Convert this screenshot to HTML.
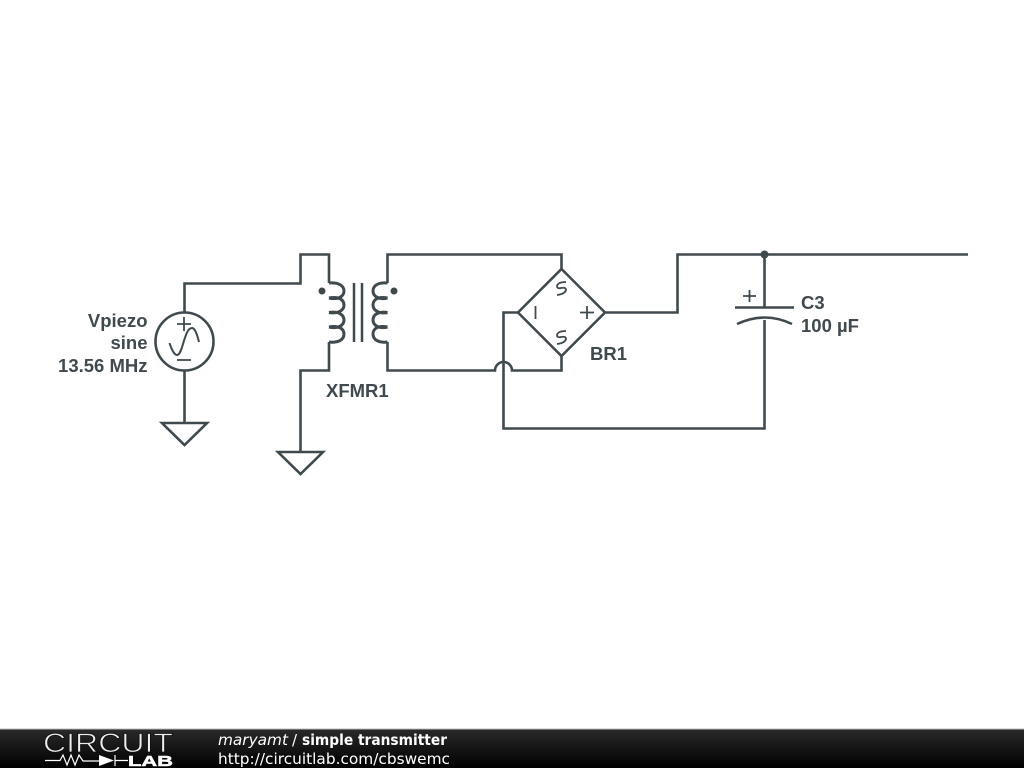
<!DOCTYPE html>
<html><head><meta charset="utf-8"><style>
html,body{margin:0;padding:0;background:#fff}
svg{display:block}
.l{font:bold 18.500px "Liberation Sans",sans-serif;fill:#404a4e}
.f{font:15px "DejaVu Sans",sans-serif;fill:#fff}
</style></head><body>
<svg width="1024" height="768" viewBox="0 0 1024 768" xmlns="http://www.w3.org/2000/svg">
<defs><linearGradient id="g" x1="0" y1="0" x2="0" y2="1"><stop offset="0" stop-color="#2a2a2a"/><stop offset=".5" stop-color="#151515"/><stop offset="1" stop-color="#000"/></linearGradient></defs>
<rect width="1024" height="768" fill="#fff"/>
<g fill="none" stroke="#404a4e" stroke-width="2.600" stroke-linejoin="miter">
<path d="M184.500 312V283.500H300.500V254.500H329V283"/>
<path d="M184.500 371V423"/>
<circle cx="184.500" cy="341.500" r="29"/>
<path d="M162 423H207L184.500 445Z"/>
<path d="M329 342V370.500H300.500V452"/>
<path d="M278 452H323L300.500 474Z"/>
<g stroke-width="3">
<path d="M329 283C339 282 344 286 344 291C344 297 337 300 329 298"/>
<path d="M329 298C339 296 344 300 344 305C344 311 337 314 329 312.500"/>
<path d="M329 312.500C339 311 344 315 344 320C344 326 337 329 329 327"/>
<path d="M329 327C339 325 344 329 344 334C344 340 338 343 329 342"/>
<path d="M387.500 283C377.500 282 373 286 373 291C373 297 380 300 387.500 298"/>
<path d="M387.500 298C377.500 296 373 300 373 305C373 311 380 314 387.500 312.500"/>
<path d="M387.500 312.500C377.500 311 373 315 373 320C373 326 380 329 387.500 327"/>
<path d="M387.500 327C377.500 325 373 329 373 334C373 340 379 343 387.500 342"/>
</g>
<path d="M354 283V342M362 283V342" stroke-width="2.500"/>
<path d="M387.500 283V254.500H561.500V269"/>
<path d="M387.500 342V370.500H495A8.500 8.500 0 0 1 512 370.500H561.500V356"/>
<path d="M561.500 269L605 312.500L561.500 356L518 312.500Z"/>
<path d="M518 312.500H503.500V428.500H764.500V320"/>
<path d="M605 312.500H677.500V254.500H968"/>
<path d="M764.500 254.500V307"/>
<path d="M735 307.500H794"/>
<path d="M737 324Q764.500 311 792 324"/>
</g>
<g fill="none" stroke="#404a4e" stroke-width="1.800">
<path d="M177 324H191M184 317V331"/>
<path d="M177 360H191"/>
<path d="M169.500 343C172 351 175 355 177 355C183 355 184 328 192 328C195 328 197 334 199 342" stroke-width="2"/>
<path d="M743 296H756M749.500 290V302"/>
<path d="M580 312.500H594M587 306V319"/>
<path d="M535.500 306V319"/>
<path d="M566 282Q558 282 557 286Q557 289 561 288Q566 287 566 290Q565 294 557 295"/>
<path d="M566 331Q558 331 557 335Q557 338 561 337Q566 336 566 339Q565 343 557 344"/>
</g>
<circle cx="322" cy="291" r="3.500" fill="#404a4e"/>
<circle cx="394" cy="291" r="3.500" fill="#404a4e"/>
<circle cx="764.500" cy="254.500" r="4" fill="#404a4e"/>
<text class="l" x="147.500" y="327" text-anchor="end">Vpiezo</text>
<text class="l" x="147.500" y="349" text-anchor="end">sine</text>
<text class="l" x="147.500" y="372" text-anchor="end">13.56 MHz</text>
<text class="l" x="326" y="397">XFMR1</text>
<text class="l" x="590" y="360">BR1</text>
<text class="l" x="801" y="309">C3</text>
<text class="l" x="801" y="332">100 µF</text>
<rect y="729" width="1024" height="39" fill="url(#g)"/>
<rect y="728.500" width="1024" height="1" fill="#bbb"/>
<text x="43" y="752" font-family="'Liberation Sans',sans-serif" font-size="27" fill="#eee" stroke="#111" stroke-width=".8" textLength="130" lengthAdjust="spacingAndGlyphs">CIRCUIT</text>
<text x="128" y="766" font-family="'Liberation Sans',sans-serif" font-size="15" font-weight="bold" fill="#fff" stroke="#fff" stroke-width=".5" textLength="45" lengthAdjust="spacingAndGlyphs">LAB</text>
<path d="M45 760.500H60L63 755L67 765L71 755L75 765L79 755L83 761H99M115 760.500H128M115 755V766" fill="none" stroke="#fff" stroke-width="1.200"/>
<path d="M99 755L114 760.500L99 766Z" fill="#fff"/>
<text class="f" x="218" y="745" style="font-style:italic" textLength="70" lengthAdjust="spacingAndGlyphs">maryamt</text>
<text class="f" x="292" y="745">/</text>
<text class="f" x="302" y="745" style="font-weight:bold" textLength="145" lengthAdjust="spacingAndGlyphs">simple transmitter</text>
<text class="f" x="218" y="764" textLength="232" lengthAdjust="spacingAndGlyphs">http://circuitlab.com/cbswemc</text>
</svg>
</body></html>
